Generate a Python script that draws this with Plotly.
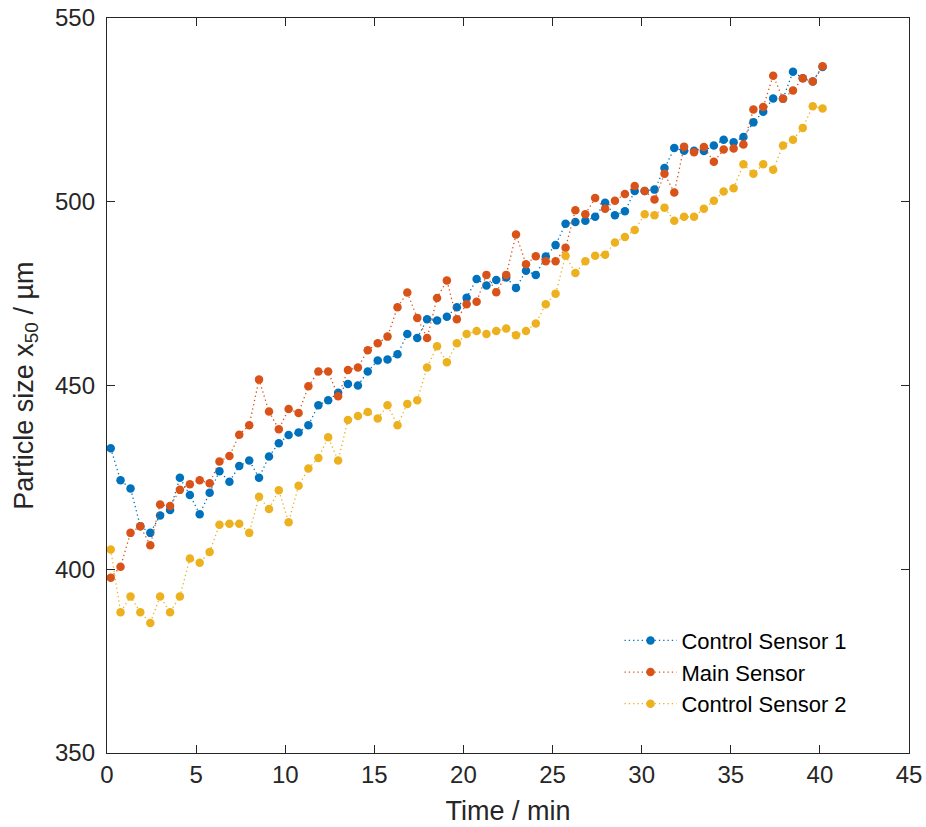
import plotly.graph_objects as go

# Sampling times (min)
time_min = [0.21, 0.76, 1.32, 1.87, 2.43, 2.98, 3.54, 4.09, 4.65, 5.20,
            5.76, 6.31, 6.87, 7.42, 7.98, 8.53, 9.09, 9.64, 10.19, 10.75,
            11.30, 11.86, 12.41, 12.97, 13.52, 14.08, 14.63, 15.19, 15.74, 16.30,
            16.85, 17.41, 17.96, 18.52, 19.07, 19.63, 20.18, 20.74, 21.29, 21.84,
            22.40, 22.95, 23.51, 24.06, 24.62, 25.17, 25.73, 26.28, 26.84, 27.39,
            27.95, 28.50, 29.06, 29.61, 30.17, 30.72, 31.28, 31.83, 32.38, 32.94,
            33.49, 34.05, 34.60, 35.16, 35.71, 36.27, 36.82, 37.38, 37.93, 38.49,
            39.04, 39.60, 40.15]

# Median particle size x50 (µm) per sensor
control_sensor_1 = [432.9, 424.2, 422.0, 411.7, 409.9, 414.6, 416.1, 424.9, 420.2, 415.0,
                    420.8, 426.7, 423.8, 428.1, 429.6, 424.9, 430.7, 434.3, 436.5, 437.2,
                    439.2, 444.6, 446.0, 448.0, 450.4, 450.0, 453.8, 456.8, 457.1, 458.5,
                    464.0, 462.9, 468.0, 467.7, 468.7, 471.3, 473.9, 479.0, 477.2, 478.7,
                    479.4, 476.5, 481.2, 480.1, 485.1, 488.2, 494.0, 494.5, 494.8, 495.9,
                    499.7, 496.3, 497.4, 502.9, 502.9, 503.3, 509.2, 514.6, 513.9, 513.9,
                    513.8, 515.3, 516.9, 516.2, 517.6, 521.6, 524.5, 528.1, 528.0, 535.4,
                    533.6, 532.7, 536.7]

main_sensor = [397.7, 400.7, 409.9, 411.7, 406.5, 417.6, 417.2, 421.6, 423.1, 424.2,
               423.4, 429.3, 430.8, 436.6, 439.2, 451.6, 442.9, 438.1, 443.6, 442.5,
               449.8, 453.8, 453.8, 447.1, 454.2, 454.9, 459.6, 461.5, 463.3, 471.3,
               475.3, 468.4, 462.9, 473.8, 478.6, 468.0, 472.1, 472.8, 480.1, 475.4,
               480.1, 491.1, 483.0, 485.2, 483.8, 483.8, 487.5, 497.7, 496.6, 501.0,
               498.1, 500.3, 502.1, 504.3, 502.9, 500.6, 507.6, 502.5, 515.0, 513.5,
               514.9, 510.9, 514.2, 514.5, 515.6, 525.1, 525.8, 534.3, 528.0, 530.3,
               533.6, 532.7, 536.9]

control_sensor_2 = [405.4, 388.3, 392.6, 388.3, 385.4, 392.6, 388.3, 392.6, 402.9, 401.8,
                    404.7, 412.1, 412.4, 412.4, 409.9, 419.7, 416.4, 421.5, 412.8, 422.7,
                    427.4, 430.3, 435.9, 429.6, 440.6, 441.7, 442.8, 441.0, 444.6, 439.2,
                    445.0, 446.0, 454.9, 460.7, 456.3, 461.5, 464.0, 464.8, 464.0, 464.8,
                    465.5, 463.7, 464.8, 466.9, 472.1, 475.0, 485.3, 480.6, 483.8, 485.3,
                    485.6, 488.9, 490.4, 492.3, 496.6, 496.3, 498.4, 494.8, 495.9, 495.9,
                    498.1, 500.3, 502.8, 503.7, 510.2, 507.6, 510.2, 508.7, 515.3, 516.9,
                    520.1, 526.0, 525.4]

series_names = ["Control Sensor 1", "Main Sensor", "Control Sensor 2"]
series_colors = ["#0072BD", "#D95319", "#EDB120"]
series_values = [control_sensor_1, main_sensor, control_sensor_2]

x_ticks = [0, 5, 10, 15, 20, 25, 30, 35, 40, 45]
y_ticks = [350, 400, 450, 500, 550]

FONT = "Liberation Sans, Arial, Helvetica, sans-serif"
axis_color = "#262626"

fig = go.Figure()
for name, color, values in zip(series_names, series_colors, series_values):
    fig.add_trace(go.Scatter(
        x=time_min, y=values, name=name, mode="lines+markers",
        line=dict(color=color, width=1.3, dash="1.3px,3px"),
        marker=dict(color=color, size=8.5, symbol="circle"),
    ))

axis_common = dict(
    showline=True, linecolor=axis_color, linewidth=1.3, mirror="ticks",
    ticks="inside", ticklen=8, tickwidth=1.3, tickcolor=axis_color,
    showgrid=False, zeroline=False, automargin=False,
    tickfont=dict(family=FONT, size=24, color=axis_color),
    title_font=dict(family=FONT, size=27, color=axis_color),
)

fig.update_xaxes(range=[0, 45], tickvals=x_ticks, title_text="Time / min",
                 title_standoff=14, **axis_common)
fig.update_yaxes(range=[350, 550], tickvals=y_ticks,
                 ticklabelstandoff=6, **axis_common)

# y-axis label placed in the left margin
fig.add_annotation(
    text="Particle size x<sub>50</sub> / µm",
    xref="paper", yref="paper", x=-0.102, y=0.5,
    xanchor="center", yanchor="middle", textangle=-90, showarrow=False,
    font=dict(family=FONT, size=27, color=axis_color),
)

fig.update_layout(
    width=926, height=827,
    margin=dict(l=107, r=17, t=18, b=74),
    plot_bgcolor="white", paper_bgcolor="white",
    legend=dict(
        x=0.639, y=0.11, xanchor="left", yanchor="middle",
        bgcolor="rgba(255,255,255,0)", borderwidth=0,
        font=dict(family=FONT, size=22, color="black"),
        itemwidth=52, tracegroupgap=0,
    ),
    showlegend=True,
)

fig.write_html("out.html")
